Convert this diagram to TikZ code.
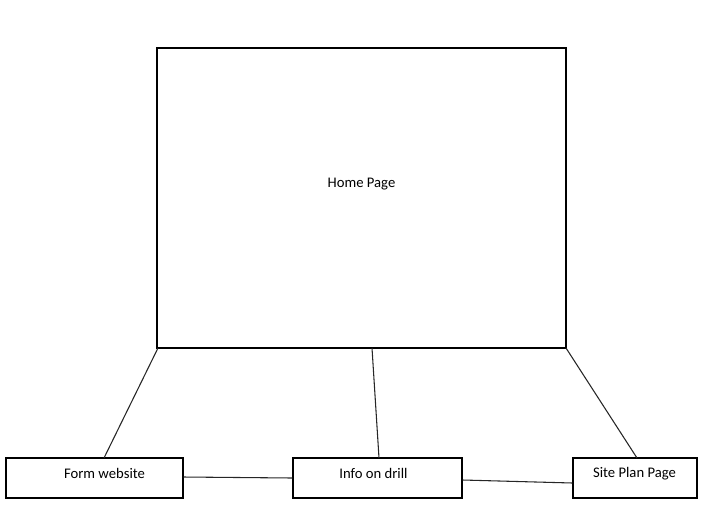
\documentclass[tikz,border=0pt]{standalone}
\usepackage{fontspec}
\setmainfont{Carlito}
\begin{document}
\begin{tikzpicture}[x=0.75pt,y=-0.75pt,
  box/.style={draw=black, line width=0.9pt, rectangle, inner sep=0pt},
  lbl/.style={font=\fontsize{11}{13}\selectfont, inner sep=0pt},
  link/.style={draw=black!85, line width=0.8pt}]
\useasboundingbox (0,0) rectangle (702,504);
\node[box, minimum width=409*0.75pt, minimum height=300*0.75pt] (home) at (361.5,198) {};
\node[lbl] (homet) at (361.5,184.5) {Home Page};
\node[box, minimum width=177*0.75pt, minimum height=40*0.75pt] (form) at (94.5,478) {};
\node[lbl] (formt) at (104.5,473.5) {Form website};
\node[box, minimum width=169*0.75pt, minimum height=40*0.75pt] (info) at (377.5,478) {};
\node[lbl] (infot) at (373.5,473.5) {Info on drill};
\node[box, minimum width=124*0.75pt, minimum height=40*0.75pt] (site) at (635,478) {};
\node[lbl] (sitet) at (634.5,473.5) {Site Plan Page};
\coordinate (h1) at (158,348);
\coordinate (h2) at (372,348);
\coordinate (h3) at (566,348);
\coordinate (f1) at (104,458);
\coordinate (i1) at (379,458);
\coordinate (s1) at (637,458);
\draw[link] (h1) -- (f1);
\draw[link] (h2) -- (i1);
\draw[link] (h3) -- (s1);
\draw[link] (form.east |- 0,477) -- (info.west |- 0,478);
\draw[link] (info.east |- 0,480) -- (site.west |- 0,483);
\end{tikzpicture}
\end{document}
